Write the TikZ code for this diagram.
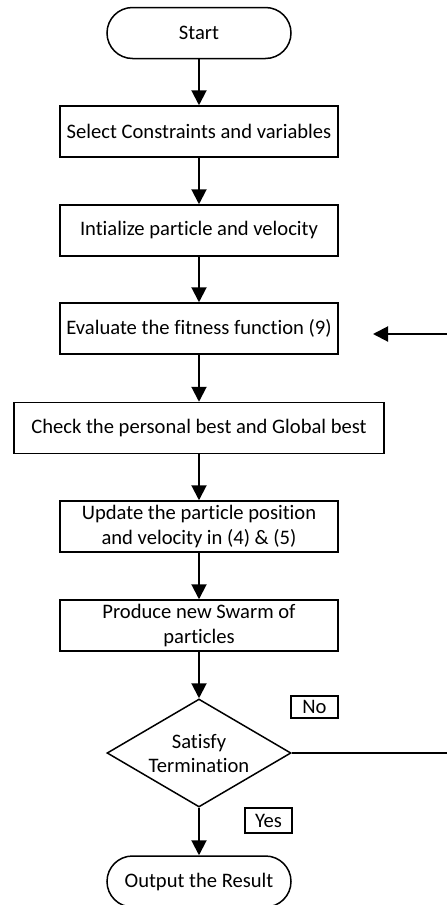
\documentclass[tikz,border=0pt]{standalone}
\usepackage{fontspec}
\setmainfont[Ligatures={NoCommon}]{Carlito}
\usepackage{tikz}
\usetikzlibrary{arrows.meta,shapes.geometric}

\tikzset{
  stepbox/.style={draw, line width=0.75pt, minimum width=139pt, minimum height=25.5pt,
    inner xsep=1pt, inner ysep=2pt, align=center, font=\fontsize{10.3pt}{12.5pt}\selectfont},
  termbox/.style={stepbox, minimum width=92pt, rounded corners=12.75pt},
  decbox/.style={draw, line width=0.75pt, diamond, aspect=1.7, inner sep=-4pt,
    minimum width=92pt, minimum height=54pt, align=center,
    font=\fontsize{10.3pt}{12pt}\selectfont},
  tagbox/.style={draw, line width=0.6pt, inner sep=0pt, minimum width=23.5pt,
    font=\fontsize{10.3pt}{12pt}\selectfont},
  flow/.style={line width=1pt, -{Triangle[length=7.5pt,width=7.5pt]}}
}

\begin{document}
\begin{tikzpicture}[x=0.5pt,y=-0.5pt]
  \useasboundingbox (0,0) rectangle (446,905);
  \node[termbox] (start) at (199,33) {Start};
  \node[stepbox] (sel) at (199,131.5) {Select Constraints and variables};
  \node[stepbox] (init) at (199,230.5) {Intialize particle and velocity};
  \node[stepbox] (eval) at (199,328.5) {Evaluate the fitness function (9)};
  \node[stepbox, minimum width=185pt] (check) at (199,428) {Check the personal best and Global best};
  \node[stepbox] (upd) at (199,526.5) {Update the particle position\\and velocity in (4) \& (5)};
  \node[stepbox] (prod) at (199,625.5) {Produce new Swarm of\\particles};
  \node[decbox] (dec) at (199,753) {Satisfy\\Termination};
  \node[termbox] (out) at (199,881.5) {Output the Result};
  \node[tagbox, minimum height=11pt] (no) at (314.5,707) {No};
  \node[tagbox, minimum height=12.5pt] (yes) at (268.5,820.5) {Yes};
  \foreach \a/\b in {start/sel,sel/init,init/eval,eval/check,check/upd,upd/prod,prod/dec,dec/out} {
    \draw[flow] (\a) -- (\b);
  }
  % loop back for No
  \coordinate (evalin) at (373,334);
  \coordinate (back) at (452,753);
  \draw[flow] (dec.east) -- (back) |- (evalin);
\end{tikzpicture}
\end{document}
